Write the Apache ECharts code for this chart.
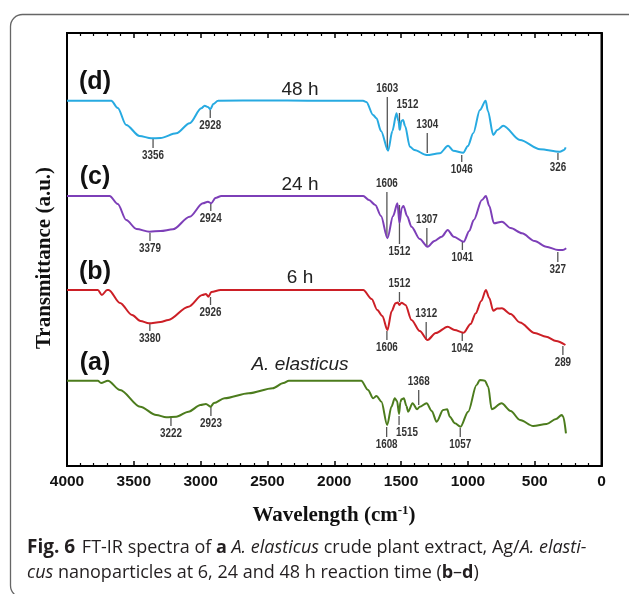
<!DOCTYPE html>
<html>
<head>
<meta charset="utf-8">
<script src="https://cdn.jsdelivr.net/npm/echarts@6/dist/echarts.min.js"></script>
<style>
html,body{margin:0;padding:0;background:#fff;}
#chart{width:629px;height:594px;}
</style>
</head>
<body>
<div id="chart"></div>
<script>
// ---- DATA (x: wavenumber cm^-1, y: transmittance, arbitrary units) ----
const xTicks = [4000, 3500, 3000, 2500, 2000, 1500, 1000, 500, 0];

const specD = [[4000,365.3],[3800,365.3],[3669,365.3],[3620,358],[3557,341],[3457,330],[3369,327.7],[3300,328],[3182,332.7],[3082,342.7],[2995,357.7],[2970,360.3],[2945,359],[2927,356.7],[2905,362],[2870,365.3],[2500,365.5],[2200,365.3],[1784,365.3],[1760,364],[1709,351],[1684,347.7],[1650,335],[1597,315.3],[1565,335],[1534,352.7],[1520,345],[1509,336],[1498,345],[1485,346],[1470,340],[1434,319.3],[1400,316],[1309,311],[1210,312.7],[1148,320.3],[1110,315.3],[1035,313.3],[1000,320],[960,332.7],[910,356],[867,365.3],[850,355],[810,331],[780,336],[735,340.3],[610,326],[460,316.7],[311,314.3],[280,316],[268,318.7]];

const specC = [[4000,270],[3681,270],[3620,262],[3557,246],[3480,237],[3382,234.3],[3300,235],[3207,236.7],[3082,249.3],[2983,262.7],[2945,264.3],[2920,262.7],[2890,268],[2845,270],[1783,270],[1740,266],[1693,261],[1650,250],[1602,227.7],[1560,250],[1527,262.7],[1512,243],[1495,258],[1482,260],[1455,250],[1422,239.3],[1360,227],[1302,219.3],[1250,225],[1196,229.3],[1151,236],[1106,229.3],[1031,224.3],[990,235],[956,246],[895,266],[865,270],[840,260],[805,242.7],[745,244.3],[680,238],[595,232.7],[500,225],[414,219.3],[324,216],[290,216],[264,217.7]];

const specB = [[4000,176],[3769,176],[3739,171],[3700,176],[3688,176],[3603,163],[3513,151],[3450,145],[3387,142.7],[3300,144],[3242,146],[3091,159.3],[2987,171],[2960,172],[2942,169.3],[2920,174],[2851,176],[1783,176],[1720,167],[1678,156],[1640,150],[1602,136],[1570,155],[1542,162.7],[1525,163.5],[1512,161],[1497,163.3],[1467,161],[1422,146],[1360,135],[1302,126],[1240,133],[1151,139.3],[1100,136],[1031,133.3],[980,142],[941,152.7],[900,165],[865,176],[840,168],[810,155.3],[780,157.5],[745,157.7],[680,152],[610,143.5],[500,133],[414,129.3],[340,125],[270,121]];

const specA = [[4000,85.3],[3769,85.3],[3745,83],[3694,85.3],[3603,76],[3452,59.3],[3332,51],[3257,48.7],[3182,49.3],[3091,54.3],[3001,61],[2960,62],[2926,59.3],[2900,63],[2821,67.7],[2640,72.7],[2460,77.7],[2380,83],[2340,85.3],[1798,85.3],[1747,76],[1709,67.7],[1684,70],[1647,64.3],[1604,41],[1572,59.3],[1547,67.7],[1530,65],[1515,52],[1505,64],[1497,66.7],[1479,67.7],[1460,60],[1447,54.3],[1414,62.7],[1380,56.7],[1360,59.3],[1309,62.7],[1270,55],[1234,44.3],[1185,56],[1155,56.7],[1135,49.3],[1097,42.7],[1055,39.3],[998,54.3],[935,81],[910,86],[873,85.3],[848,79.3],[822,56.7],[748,62.7],[680,55],[610,46],[511,40],[411,42],[340,47],[298,51],[286,49.3],[266,32.7]];

// peak annotations: [wavenumber, tick top, tick bottom, label side]
const peaksD = [[3356,327,318,'below'],[2928,356,348,'below'],[1603,369,316,'above'],[1512,353,336,'aboveR'],[1304,333,313,'above'],[1046,311,304,'below'],[326,313,306,'below']];
const peaksC = [[3379,233,225,'below'],[2924,263,255,'below'],[1606,274,229,'above'],[1512,261,222,'below'],[1307,238,220,'above'],[1041,224,216,'below'],[327,214,204,'below']];
const peaksB = [[3380,142,135,'below'],[2926,169,161,'below'],[1512,174,164,'above'],[1606,135,126,'below'],[1312,144,126,'above'],[1042,134,125,'below'],[289,120,111,'below']];
const peaksA = [[3222,48,40,'below'],[2923,59,50,'below'],[1608,39,29,'below'],[1515,50,41,'belowR'],[1368,76,61,'above'],[1057,38,29,'below']];

const seriesNames = ['(d)', '(c)', '(b)', '(a)'];
const seriesTags = ['48 h', '24 h', '6 h', 'A. elasticus'];
const colors = ['#27aae1', '#7d3fb8', '#cc1f26', '#4c7c1d'];

// ---- CHART ----
const chart = echarts.init(document.getElementById('chart'), null, {renderer: 'canvas'});
const G = {left: 67, right: 27.5, top: 33, bottom: 128};

function peakSeries(peaks) {
  return {
    type: 'custom',
    coordinateSystem: 'cartesian2d',
    silent: true,
    data: peaks.map(p => [p[0], p[1], p[2]]),
    renderItem: function (params, api) {
      const p = peaks[params.dataIndex];
      const a = api.coord([p[0], p[1]]);
      const b = api.coord([p[0], p[2]]);
      const side = p[3];
      const above = side.indexOf('above') === 0;
      const right = side.slice(-1) === 'R';
      const tx = right ? a[0] - 3 : a[0];
      const ty = above ? a[1] - 2 : b[1] + 2;
      return {
        type: 'group',
        children: [
          {type: 'line', shape: {x1: a[0], y1: a[1], x2: b[0], y2: b[1]}, style: {stroke: '#555', lineWidth: 1.3}},
          {type: 'text', x: tx, y: ty, scaleX: 0.82, style: {x: 0, y: 0, text: String(p[0]), fill: '#333',
            font: 'bold 12px "Liberation Sans", Arial, sans-serif',
            textAlign: right ? 'left' : 'center', textVerticalAlign: above ? 'bottom' : 'top'}}
        ]
      };
    }
  };
}

const lineSeries = [specD, specC, specB, specA].map((d, i) => ({
  type: 'line', data: d, showSymbol: false, smooth: 0.3, smoothMonotone: 'x',
  lineStyle: {color: colors[i], width: 2}, itemStyle: {color: colors[i]}, silent: true, z: 3
}));

const axisCommon = {
  type: 'value', min: 0, max: 4000, interval: 500, inverse: true,
  axisLine: {show: true, lineStyle: {color: '#000', width: 2}},
  axisTick: {show: true, inside: true, length: 5, lineStyle: {color: '#000', width: 1.5}},
  minorTick: {show: true, splitNumber: 5, length: 3, lineStyle: {color: '#000', width: 1.2}},
  splitLine: {show: false}
};

const labelFont = 'bold 25px "Liberation Sans", Arial, sans-serif';
const tagFont = '19px "Liberation Sans", Arial, sans-serif';
const namePos = [82, 177, 272, 363];
const tagPos = [90, 185, 278, 365];

const graphics = [
  {type: 'rect', shape: {x: 10.5, y: 14.5, width: 640, height: 583, r: 12}, style: {fill: 'none', stroke: '#666', lineWidth: 1.3}, z: -10},
  {type: 'text', x: 45, y: 258, rotation: Math.PI / 2, style: {text: 'Transmittance (a.u.)', font: 'bold 21px "Liberation Serif", "Times New Roman", serif', fill: '#111', textAlign: 'center', textVerticalAlign: 'middle'}},
  {type: 'text', style: {x: 334, y: 516, text: '{a|Wavelength (cm}{s|-1}{a|)}', textAlign: 'center', textVerticalAlign: 'middle',
    rich: {a: {font: 'bold 21px "Liberation Serif", "Times New Roman", serif', fill: '#111'}, s: {font: 'bold 13px "Liberation Serif", serif', fill: '#111', padding: [0, 0, 10, 0]}}}},
  {type: 'text', style: {x: 27, y: 548, textVerticalAlign: 'middle',
    text: '{b|Fig. 6}  {n|FT-IR spectra of }{b2|a}{n| }{i|A. elasticus}{n| crude plant extract, Ag/}{i|A. elasti-}',
    rich: {
      b: {font: 'bold 19px "Open Sans", sans-serif', fill: '#231f20'},
      b2: {font: 'bold 18px "Open Sans", sans-serif', fill: '#231f20'},
      n: {font: '18px "Open Sans", sans-serif', fill: '#231f20'},
      i: {font: 'italic 18px "Open Sans", sans-serif', fill: '#231f20'}
    }}},
  {type: 'text', style: {x: 27, y: 573, textVerticalAlign: 'middle',
    text: '{i|cus}{n| nanoparticles at 6, 24 and 48 h reaction time (}{b2|b}{n|–}{b2|d}{n|)}',
    rich: {
      b2: {font: 'bold 18px "Open Sans", sans-serif', fill: '#231f20'},
      n: {font: '18px "Open Sans", sans-serif', fill: '#231f20'},
      i: {font: 'italic 18px "Open Sans", sans-serif', fill: '#231f20'}
    }}}
];
seriesNames.forEach((n, i) => {
  graphics.push({type: 'text', style: {x: 95, y: namePos[i], text: n, font: labelFont, fill: '#111', textAlign: 'center', textVerticalAlign: 'middle'}});
  graphics.push({type: 'text', style: {x: 300, y: tagPos[i], text: seriesTags[i], font: (i === 3 ? 'italic ' : '') + tagFont, fill: '#222', textAlign: 'center', textVerticalAlign: 'middle'}});
});

chart.setOption({
  animation: false,
  backgroundColor: '#fff',
  grid: Object.assign({show: true, borderColor: '#000', borderWidth: 2, containLabel: false}, G),
  xAxis: [
    Object.assign({}, axisCommon, {position: 'bottom',
      axisLabel: {show: true, margin: 8, color: '#111', fontSize: 15.5, fontWeight: 'bold', fontFamily: '"Liberation Sans", Arial, sans-serif',
        formatter: v => xTicks.indexOf(v) >= 0 ? String(v) : ''}}),
    Object.assign({}, axisCommon, {position: 'top', axisLabel: {show: false}})
  ],
  yAxis: {type: 'value', min: 0, max: 433, axisLine: {show: true, lineStyle: {color: '#000', width: 2}}, axisTick: {show: false}, axisLabel: {show: false}, splitLine: {show: false}},
  series: lineSeries.concat([peakSeries(peaksD), peakSeries(peaksC), peakSeries(peaksB), peakSeries(peaksA)]),
  graphic: graphics
});
</script>
</body>
</html>
